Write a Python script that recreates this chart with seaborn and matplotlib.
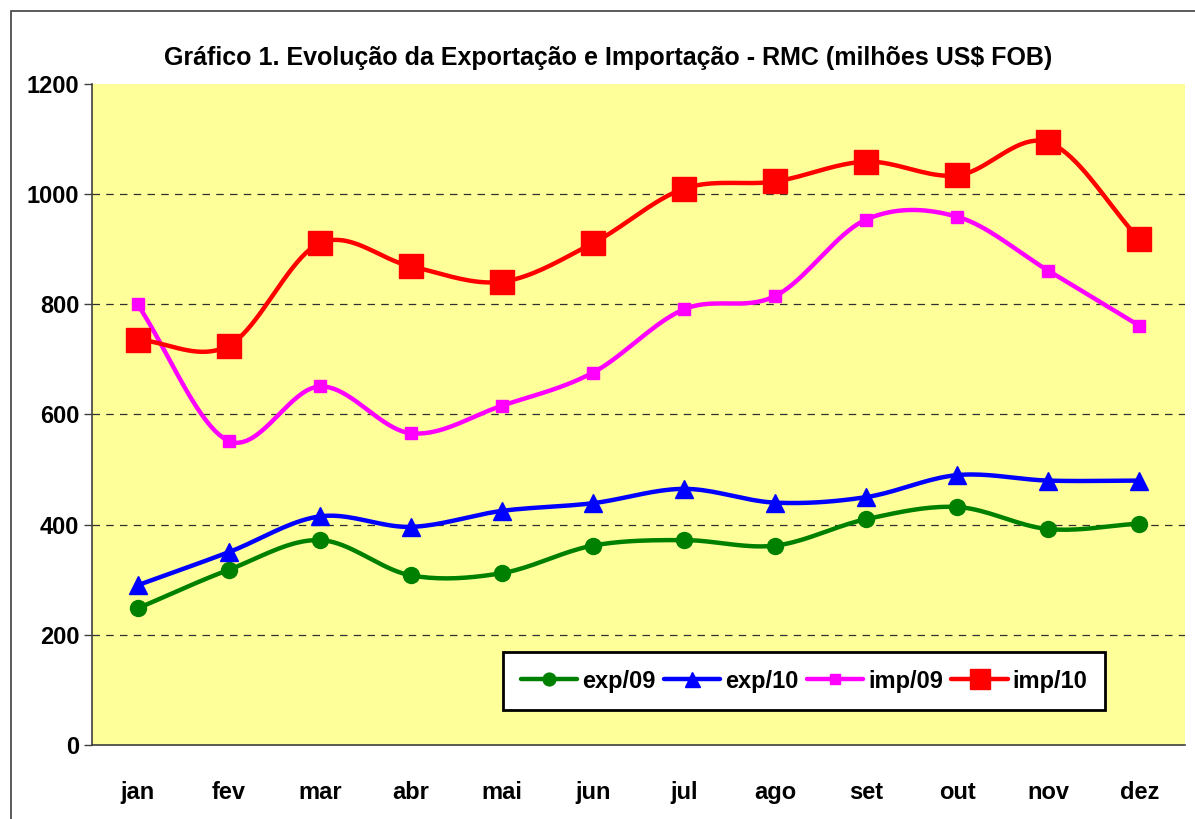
import numpy as np
import pandas as pd
import matplotlib
matplotlib.use("Agg")
import matplotlib.pyplot as plt
from matplotlib.lines import Line2D
from matplotlib.patches import Rectangle
import seaborn as sns

months = ["jan", "fev", "mar", "abr", "mai", "jun", "jul", "ago", "set", "out", "nov", "dez"]
exp09 = [248, 318, 372, 308, 312, 362, 372, 362, 410, 432, 392, 402]
exp10 = [290, 350, 415, 396, 425, 439, 465, 440, 450, 490, 480, 480]
imp09 = [800, 552, 651, 566, 616, 676, 791, 815, 954, 959, 861, 761]
imp10 = [736, 725, 911, 869, 841, 911, 1010, 1023, 1059, 1034, 1094, 918]
series_names = ["exp/09", "exp/10", "imp/09", "imp/10"]
yticks = [0, 200, 400, 600, 800, 1000, 1200]
title = "Gráfico 1. Evolução da Exportação e Importação - RMC (milhões US$ FOB)"

sns.set_theme(style="white")
plt.rcParams['font.family'] = ['Liberation Sans Narrow', 'Liberation Sans', 'DejaVu Sans']
plt.rcParams['font.weight'] = 'bold'
plt.rcParams['text.color'] = 'black'
plt.rcParams['xtick.color'] = 'black'
plt.rcParams['ytick.color'] = 'black'

df = pd.DataFrame({"mes": months, "exp/09": exp09, "exp/10": exp10,
                   "imp/09": imp09, "imp/10": imp10})
long = df.melt(id_vars="mes", var_name="serie", value_name="valor")
long["x"] = long["mes"].map({m: i for i, m in enumerate(months)})

styles = {
    "exp/09": dict(color="#008000", marker="o", ms=11.5),
    "exp/10": dict(color="#0000FF", marker="^", ms=13.5),
    "imp/09": dict(color="#FF00FF", marker="s", ms=8.5),
    "imp/10": dict(color="#FF0000", marker="s", ms=17),
}

def smooth(xs, ys, n=20):
    # Catmull-Rom style smoothing (rendering only, like Excel smoothed lines)
    xs = np.asarray(xs, float); ys = np.asarray(ys, float)
    px = np.concatenate([[2*xs[0]-xs[1]], xs, [2*xs[-1]-xs[-2]]])
    py = np.concatenate([[2*ys[0]-ys[1]], ys, [2*ys[-1]-ys[-2]]])
    ox, oy = [], []
    for i in range(1, len(px)-2):
        t = np.linspace(0, 1, n, endpoint=False)
        p0, p1, p2, p3 = [np.array([px[j], py[j]]) for j in (i-1, i, i+1, i+2)]
        t2, t3 = t*t, t*t*t
        pts = 0.5*((2*p1)[:, None] + (-p0+p2)[:, None]*t + (2*p0-5*p1+4*p2-p3)[:, None]*t2
                   + (-p0+3*p1-3*p2+p3)[:, None]*t3)
        ox.extend(pts[0]); oy.extend(pts[1])
    ox.append(xs[-1]); oy.append(ys[-1])
    return np.array(ox), np.array(oy)

fig = plt.figure(figsize=(11.95, 8.19), dpi=100)
fig.patch.set_facecolor("white")
fig.patches.append(Rectangle((11/1195, -0.1), 1.2, (819-11)/819 + 0.1, transform=fig.transFigure,
                             fill=False, edgecolor="#404040", lw=1.2, zorder=0))
ax = fig.add_axes([92/1195, 74/819, 1093/1195, 661/819])
ax.set_facecolor("#FFFF99")

for name in series_names:
    st = styles[name]
    sub = long[long["serie"] == name]
    sx, sy = smooth(sub["x"].values, sub["valor"].values)
    sline = pd.DataFrame({"x": sx, "y": sy})
    sns.lineplot(data=sline, x="x", y="y", ax=ax, color=st["color"], lw=3.2, sort=False,
                 estimator=None, zorder=3)
    ax.plot(sub["x"], sub["valor"], ls="none", marker=st["marker"], ms=st["ms"],
            color=st["color"], mec=st["color"], zorder=4)

ax.set_xlim(-0.5, 11.5)
ax.set_ylim(0, 1200)
ax.set_yticks(yticks)
ax.set_yticklabels([str(v) for v in yticks], fontsize=17, fontweight="bold", color="black")
ax.set_xticks(range(12))
ax.set_xticklabels(months, fontsize=17, fontweight="bold", color="black")
ax.set_xticks(np.arange(-0.5, 12, 1), minor=True)
ax.tick_params(axis="x", which="major", length=0, pad=26)
ax.tick_params(axis="x", which="minor", length=6, width=1, color="#404040", direction="out")
ax.tick_params(axis="y", length=6, width=1, color="#404040", direction="out", pad=3, left=True)
for v in yticks[1:-1]:
    ax.axhline(v, color="#303030", ls=(0, (6, 5)), lw=0.9, zorder=1)
ax.set_xlabel(""); ax.set_ylabel("")
for s in ["top", "right"]:
    ax.spines[s].set_visible(False)
for s in ["left", "bottom"]:
    ax.spines[s].set_color("#404040"); ax.spines[s].set_linewidth(1.2)

handles = [Line2D([0], [0], color=styles[n]["color"], lw=3.2, marker=styles[n]["marker"],
                  ms=styles[n]["ms"] * 0.8 if n != "imp/10" else 15) for n in series_names]
leg = ax.legend(handles, series_names, loc="upper right", bbox_to_anchor=(0.927, 0.141),
                ncol=4, frameon=True, fancybox=False, handlelength=2.4,
                handletextpad=0.2, columnspacing=0.35, borderpad=0.75, borderaxespad=0,
                prop={"weight": "bold", "size": 17})
leg.get_frame().set_edgecolor("black"); leg.get_frame().set_linewidth(2)
leg.get_frame().set_facecolor("white"); leg.get_frame().set_alpha(1)
for t in leg.get_texts():
    t.set_color("black")

fig.text(608/1195, 1 - 58/819, title, ha="center", va="center", fontsize=18, fontweight="bold",
         color="black")
fig.savefig("out.png", dpi=100, facecolor="white")
